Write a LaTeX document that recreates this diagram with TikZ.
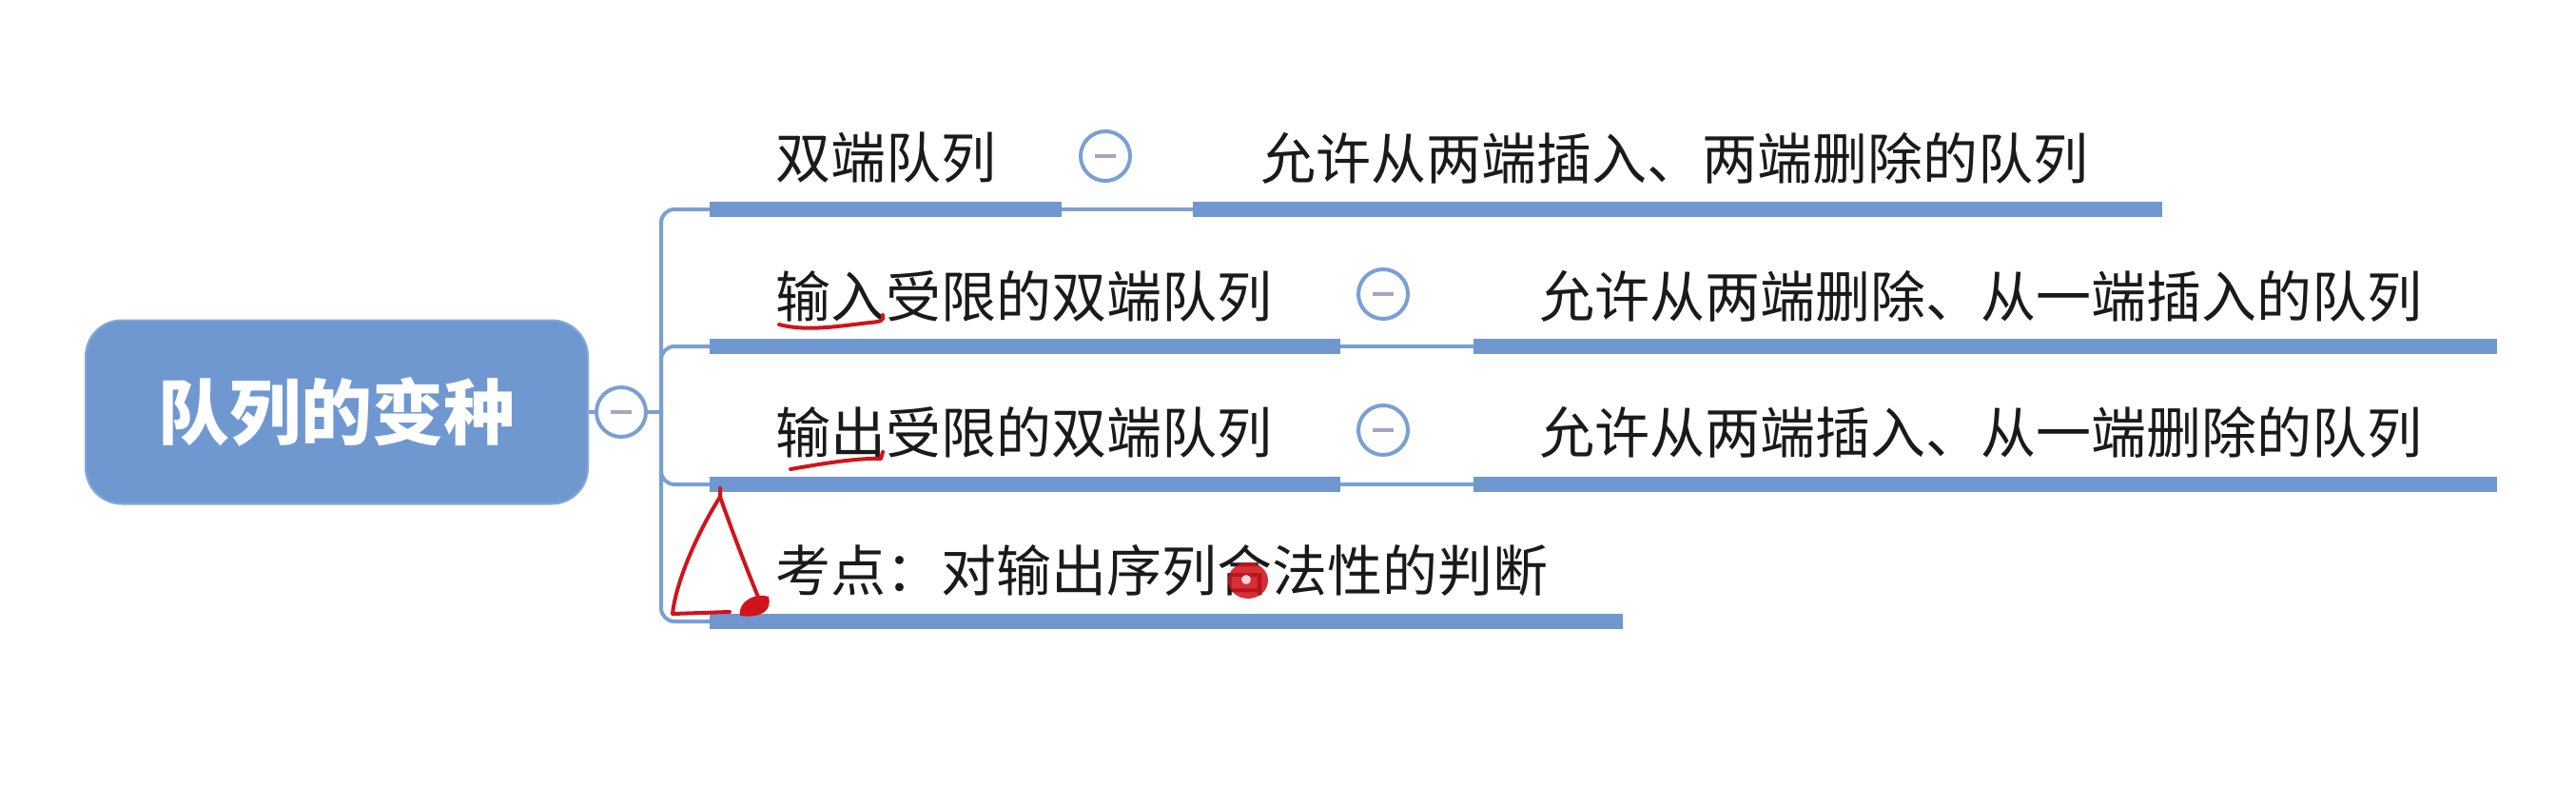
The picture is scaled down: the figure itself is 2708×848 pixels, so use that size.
\documentclass[tikz,border=0pt]{standalone}
\usepackage{fontspec}
\newfontfamily\cjk{Noto Sans CJK SC}
\definecolor{barblue}{HTML}{7097D0}
\definecolor{lineblue}{HTML}{7A9FD5}
\definecolor{rootblue}{HTML}{6F98D1}
\definecolor{minusgray}{HTML}{A9A3C2}
\definecolor{textblack}{HTML}{1A1A1A}
\definecolor{annred}{HTML}{D0141C}
\tikzset{
  bar/.style={line width=16pt, draw=barblue},
  thinline/.style={line width=4pt, draw=lineblue},
  toggle/.style={circle, draw=lineblue, line width=4pt, fill=white, minimum size=52pt, inner sep=0pt,
    path picture={\draw[line width=3.5pt, draw=minusgray] ([xshift=-11pt]path picture bounding box.center) -- ([xshift=11pt]path picture bounding box.center);}},
  lbl/.style={anchor=west, inner sep=0pt, font=\cjk\fontsize{58}{62}\selectfont, text=textblack},
  rootbox/.style={rectangle, rounded corners=38pt, fill=rootblue, draw=rootblue!85!white, line width=2pt,
    minimum width=528pt, minimum height=193pt, inner sep=0pt, text=white, font=\cjk\bfseries\fontsize{75}{78}\selectfont},
  annot/.style={draw=annred, line width=4pt, line cap=round, line join=round}
}
\begin{document}
\begin{tikzpicture}[x=1pt,y=-1pt]
\useasboundingbox[fill=white] (0,0) rectangle (2708,848);

% root
\node[rootbox] (root) at (354,433) {队列的变种};
\node[toggle] (rootc) at (653,433) {};
\coordinate (hub) at (695,433);

% bar coordinates
\coordinate (b1s) at (746,220); \coordinate (b1e) at (1116,220);
\coordinate (c1s) at (1254,220); \coordinate (c1e) at (2273,220);
\coordinate (b2s) at (746,364); \coordinate (b2e) at (1409,364);
\coordinate (c2s) at (1549,364); \coordinate (c2e) at (2625,364);
\coordinate (b3s) at (746,509); \coordinate (b3e) at (1409,509);
\coordinate (c3s) at (1549,509); \coordinate (c3e) at (2625,509);
\coordinate (b4s) at (746,653); \coordinate (b4e) at (1706,653);

% connectors
\draw[thinline] (root.east) -- (rootc.west);
\draw[thinline] (rootc.east) -- (hub);
\draw[thinline, rounded corners=14pt] (hub) |- (b1s);
\draw[thinline, rounded corners=14pt] (hub) |- (b2s);
\draw[thinline, rounded corners=14pt] (hub) |- (b3s);
\draw[thinline, rounded corners=14pt] (hub) |- (b4s);
\draw[thinline] (b1e) -- (c1s);
\draw[thinline] (b2e) -- (c2s);
\draw[thinline] (b3e) -- (c3s);

% bars
\draw[bar] (b1s) -- (b1e); \draw[bar] (c1s) -- (c1e);
\draw[bar] (b2s) -- (b2e); \draw[bar] (c2s) -- (c2e);
\draw[bar] (b3s) -- (b3e); \draw[bar] (c3s) -- (c3e);
\draw[bar] (b4s) -- (b4e);

% labels
\node[lbl] (t1) at (815,166) {双端队列};
\node[toggle] (g1) at (1162,164) {};
\node[lbl] (d1) at (1325,166) {允许从两端插入、两端删除的队列};

\node[lbl] (t2) at (815,311) {输入受限的双端队列};
\node[toggle] (g2) at (1454,309) {};
\node[lbl] (d2) at (1618,311) {允许从两端删除、从一端插入的队列};

\node[lbl] (t3) at (815,454) {输出受限的双端队列};
\node[toggle] (g3) at (1454,452) {};
\node[lbl] (d3) at (1618,454) {允许从两端插入、从一端删除的队列};

\node[lbl] (t4) at (815,599) {考点：对输出序列合法性的判断};

% handwritten red annotations
\draw[annot] (819,341) .. controls (850,349) and (885,342) .. (915,339) .. controls (925,338) and (930,337) .. (928,331);
\draw[annot] (831,493) .. controls (860,488) and (900,481) .. (926,482) -- (928,475);
\draw[annot] (757,513) -- (757,522) .. controls (730,565) and (710,615) .. (707,645) -- (767,643);
\draw[annot] (757,522) .. controls (772,565) and (788,605) .. (798,630);
\fill[annred] (778,647) .. controls (775,632) and (795,622) .. (808,627) .. controls (812,641) and (801,650) .. (778,647) -- cycle;
\fill[annred, opacity=0.88] (1312,610) ellipse [x radius=21, y radius=19];
\fill[white, opacity=0.8] (1310,609) circle [radius=5];
\end{tikzpicture}
\end{document}
